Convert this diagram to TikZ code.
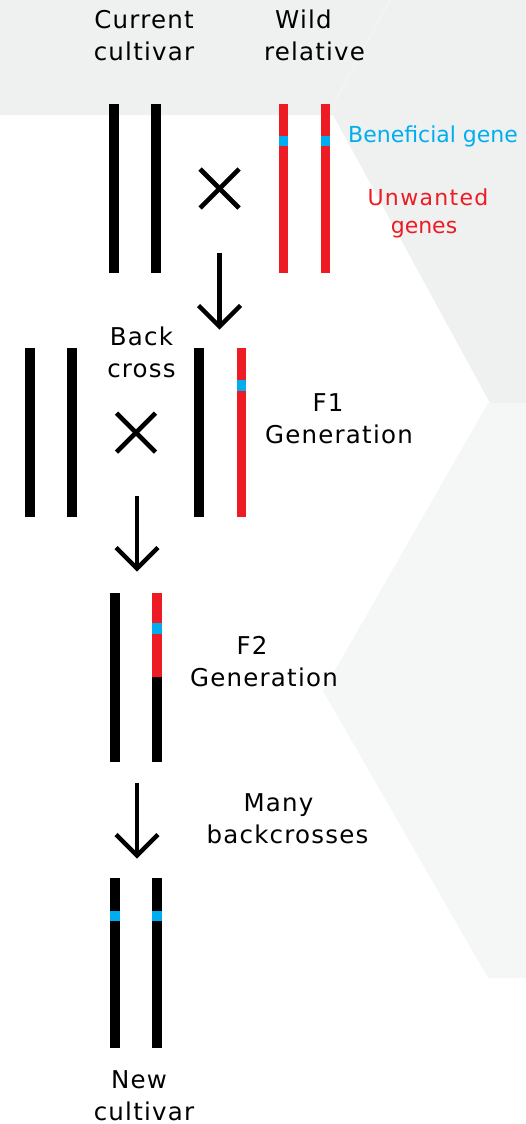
\documentclass[tikz,border=0pt]{standalone}
\usepackage{fontspec}
\setmainfont{DejaVu Sans}
\usetikzlibrary{calc}
\definecolor{bandgray}{HTML}{EFF0F0}
\definecolor{panelgray}{HTML}{F5F6F6}
\definecolor{genered}{HTML}{ED1C24}
\definecolor{geneblue}{HTML}{00AEEF}
\tikzset{
  label/.style={align=center, inner sep=0pt, anchor=base,
    font=\fontsize{24.5}{31.5}\selectfont\addfontfeature{LetterSpace=5}},
  chromblack/.style={fill=black},
  chromred/.style={fill=genered},
  genemark/.style={fill=geneblue},
  crossmark/.style={line width=4.6pt, line cap=butt},
  flow/.style={line width=4.4pt, line cap=butt, line join=miter},
}
% vertical chromosome bar centred on x, from y1 to y2
\newcommand{\chrom}[4]{\fill[#1] (#2-4.7,#3) rectangle (#2+4.7,#4);}
% a cross sign centred on a point
\newcommand{\crosssign}[3]{%
  \draw[crossmark] (#2-19.5,#3-19.5) -- (#2+19.5,#3+19.5);
  \draw[crossmark] (#2-19.5,#3+19.5) -- (#2+19.5,#3-19.5);
  \coordinate (#1) at (#2,#3);}
% downward arrow between two named coordinates, open head
\newcommand{\flowarrow}[2]{%
  \draw[flow] (#1) -- (#2);
  \draw[flow] ($(#2)+(-21,-21)$) -- (#2) -- ($(#2)+(21,-21)$);}
\begin{document}
\begin{tikzpicture}[x=1pt,y=-1pt]
\useasboundingbox (0,0) rectangle (526,1124);

% background panels
\fill[bandgray] (0,0) -- (526,0) -- (526,403) -- (490,403) -- (333,115) -- (0,115) -- cycle;
\draw[white!55!bandgray, line width=0.6pt] (390,0) -- (333,105);
\fill[panelgray] (488,403) -- (526,403) -- (526,978) -- (488,978) -- (323,691) -- cycle;

% parents: current cultivar and wild relative
\chrom{chromblack}{114}{104}{273}
\chrom{chromblack}{156}{104}{273}
\chrom{chromred}{283.5}{104}{273}
\chrom{chromred}{325.5}{104}{273}
\chrom{genemark}{283.5}{136}{146}
\chrom{genemark}{325.5}{136}{146}
\crosssign{x1}{219.5}{188.5}

% back cross with the F1 generation
\chrom{chromblack}{30}{348}{517}
\chrom{chromblack}{72}{348}{517}
\chrom{chromblack}{199}{348}{517}
\chrom{chromred}{241.5}{348}{517}
\chrom{genemark}{241.5}{380}{391}
\crosssign{x2}{136}{432.5}

% F2 generation
\chrom{chromblack}{115}{593}{762}
\chrom{chromblack}{157}{677}{762}
\chrom{chromred}{157}{593}{677}
\chrom{genemark}{157}{623}{634}

% new cultivar
\chrom{chromblack}{115}{878}{1048}
\chrom{chromblack}{157}{878}{1048}
\chrom{genemark}{115}{911}{921}
\chrom{genemark}{157}{911}{921}

% arrows between generations
\coordinate (a1s) at (219.5,253);  \coordinate (a1e) at (219.5,326.5);
\coordinate (a2s) at (137,496);    \coordinate (a2e) at (137,568.5);
\coordinate (a3s) at (137,783);    \coordinate (a3e) at (137,855.5);
\flowarrow{a1s}{a1e}
\flowarrow{a2s}{a2e}
\flowarrow{a3s}{a3e}

% labels (anchored on the baseline of their last line)
\node[label] (cur) at (144,60) {Current\\cultivar};
\node[label] (wild) at (314.5,60) {Wild\hspace*{22pt}\\relative};
\node[label, anchor=base west, text=geneblue, font=\fontsize{22}{28}\selectfont] (ben) at (348,142) {Beneficial gene};
\node[label, text=genered, font=\fontsize{22}{28}\selectfont] (unw) at (428,233)
  {{\addfontfeature{LetterSpace=6}Unwanted}\\genes\hspace*{8pt}};
\node[label] (back) at (141.5,377) {Back\\cross};
\node[label] (f1) at (339,443) {F1\hspace*{22pt}\\Generation};
\node[label] (f2) at (264,686) {F2\hspace*{24pt}\\Generation};
\node[label] (many) at (287.5,843) {Many\hspace*{18pt}\\backcrosses};
\node[label] (new) at (144,1120) {New\hspace*{10pt}\\cultivar};
\end{tikzpicture}
\end{document}
